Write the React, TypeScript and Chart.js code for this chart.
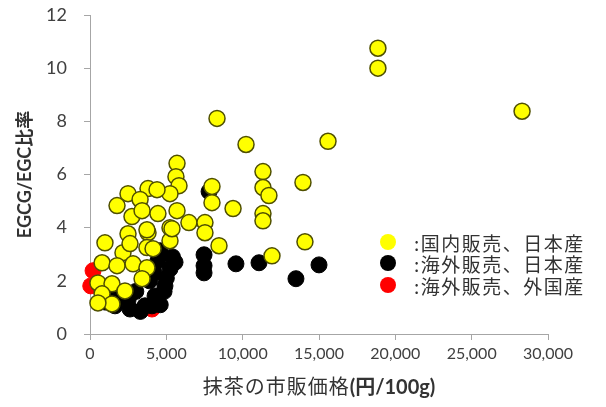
import React, { useEffect, useRef } from 'react';
import { Chart, registerables } from 'chart.js';
Chart.register(...registerables);

// 国内販売、日本産 (price yen/100g, EGCG/EGC ratio)
const domesticPrice = [18860, 18860, 28300, 15590, 13950, 14080, 8320, 10220, 11330, 11330, 11720, 7990, 7990, 9370, 6480, 7530, 7530, 11330, 11330, 8450, 11920, 5700, 5630, 5830, 5240, 3800, 4390, 2490, 1770, 3280, 2750, 3410, 4450, 5700, 3800, 2490, 5240, 5240, 980, 2160, 2620, 3730, 4130, 790, 1770, 2820, 3730, 3410, 520, 1440, 2290, 790, 1440, 520, 3730, 5370];
const domesticRatio = [10.75, 10.0, 8.38, 7.25, 5.7, 3.47, 8.11, 7.13, 6.11, 5.51, 5.21, 5.55, 4.94, 4.72, 4.19, 4.19, 3.81, 4.53, 4.26, 3.32, 2.94, 6.42, 5.92, 5.58, 5.28, 5.47, 5.43, 5.28, 4.83, 5.06, 4.42, 4.64, 4.53, 4.64, 3.81, 3.77, 4.0, 3.51, 3.43, 3.06, 3.4, 3.25, 3.21, 2.68, 2.57, 2.64, 2.49, 2.08, 1.92, 1.89, 1.62, 1.51, 1.13, 1.17, 3.92, 3.96];

// 海外販売、日本産
const overseasJPPrice = [7800, 7470, 7470, 7470, 9560, 11070, 13490, 15000, 5240, 5570, 4590, 4450, 4910, 4260, 3600, 2620, 1640, 1000, 2000, 3000, 3900, 4200, 2500, 3300, 4600, 1300, 4850, 5000, 4060, 5400];
const overseasJPRatio = [5.36, 2.98, 2.57, 2.3, 2.64, 2.68, 2.08, 2.6, 2.45, 2.7, 3.13, 2.75, 1.81, 1.43, 1.06, 0.94, 1.06, 1.2, 1.5, 1.6, 2.0, 2.3, 1.3, 0.85, 1.1, 1.55, 1.6, 2.1, 1.06, 2.9];

// 海外販売、外国産
const overseasForeignPrice = [200, 50, 4060];
const overseasForeignRatio = [2.38, 1.81, 0.94];

const seriesLabels = ['国内販売、日本産', '海外販売、日本産', '海外販売、外国産'];
const seriesColors = ['#ffff00', '#000000', '#ff0000'];

const xTitle1 = '抹茶の市販価格';
const xTitle2 = '(円/100g)';
const yTitle = 'EGCG/EGC比率';

const toPoints = (xs: number[], ys: number[]) => xs.map((x, i) => ({ x, y: ys[i] }));

export default function App() {
  const ref = useRef<HTMLCanvasElement>(null);
  useEffect(() => {
    if (!ref.current) return;
    const axisColor = '#a6a6a6';
    const chart = new Chart(ref.current, {
      type: 'scatter',
      data: {
        datasets: [
          {
            label: seriesLabels[0],
            data: toPoints(domesticPrice, domesticRatio),
            backgroundColor: seriesColors[0],
            borderColor: '#4f4f00',
            borderWidth: 1.5,
            pointRadius: 8,
            clip: false,
          },
          {
            label: seriesLabels[1],
            data: toPoints(overseasJPPrice, overseasJPRatio),
            backgroundColor: seriesColors[1],
            borderColor: '#000000',
            borderWidth: 1,
            pointRadius: 8,
            clip: false,
          },
          {
            label: seriesLabels[2],
            data: toPoints(overseasForeignPrice, overseasForeignRatio),
            backgroundColor: seriesColors[2],
            borderColor: '#ff0000',
            borderWidth: 1,
            pointRadius: 8,
            clip: false,
          },
        ],
      },
      options: {
        responsive: false,
        animation: false,
        layout: { padding: { top: 15, right: 58, left: 0, bottom: 0 } },
        plugins: { legend: { display: false }, tooltip: { enabled: false } },
        scales: {
          x: {
            type: 'linear',
            min: 0,
            max: 30000,
            afterFit: (s: any) => { s.height = 73; },
            ticks: {
              stepSize: 5000,
              color: '#404040',
              font: { family: 'Lato', size: 16 },
              padding: 4,
              maxRotation: 0,
              callback: (v: any) => Number(v).toLocaleString('en-US'),
            },
            grid: { drawOnChartArea: false, drawTicks: true, tickLength: 6, color: axisColor },
            border: { display: true, color: axisColor, width: 1 },
          },
          y: {
            type: 'linear',
            min: 0,
            max: 12,
            afterFit: (s: any) => { s.width = 90; s.paddingTop = 0; s.paddingBottom = 0; },
            ticks: {
              stepSize: 2,
              color: '#404040',
              font: { family: 'Lato', size: 18 },
              padding: 17,
            },
            title: {
              display: true,
              text: yTitle,
              color: '#333333',
              font: { family: "Lato, 'Noto Sans CJK JP'", size: 18, weight: 'bold' },
              padding: { top: 14, bottom: 0 },
            },
            grid: { drawOnChartArea: false, drawTicks: true, tickLength: 6, color: axisColor },
            border: { display: true, color: axisColor, width: 1 },
          },
        },
      },
    });
    return () => chart.destroy();
  }, []);

  const rowTops = [231, 252, 274];
  return (
    <div style={{ position: 'fixed', left: 0, top: 0, width: 606, height: 407, background: '#fff' }}>
      <canvas ref={ref} width={606} height={407} />
      {seriesLabels.map((lab, i) => (
        <div
          key={lab}
          style={{
            position: 'absolute',
            left: 380,
            top: rowTops[i],
            height: 22,
            display: 'flex',
            alignItems: 'center',
            fontFamily: "'Noto Sans CJK JP'",
            fontSize: 19,
            color: '#333',
            whiteSpace: 'nowrap',
          }}
        >
          <span style={{ display: 'inline-block', width: 16, height: 16, borderRadius: '50%', background: seriesColors[i], marginRight: 18 }} />
          <span style={{ letterSpacing: 1.5 }}>:{lab}</span>
        </div>
      ))}
      <div
        style={{
          position: 'absolute',
          left: 90,
          width: 458,
          top: 371,
          textAlign: 'center',
          fontSize: 20,
          color: '#333',
          whiteSpace: 'nowrap',
        }}
      >
        <span style={{ fontFamily: "'Noto Sans CJK JP'", letterSpacing: 1 }}>{xTitle1}</span>
        <span style={{ fontFamily: "Lato, 'Noto Sans CJK JP'", fontWeight: 'bold' }}>{xTitle2}</span>
      </div>
    </div>
  );
}
